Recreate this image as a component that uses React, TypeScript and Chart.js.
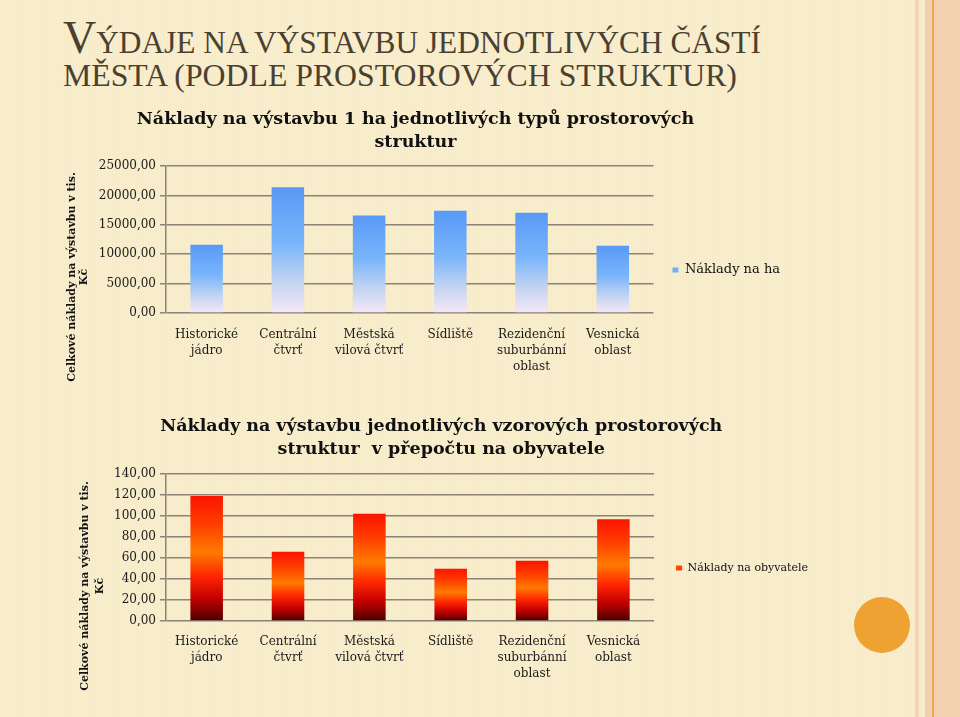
import React, { useEffect, useRef } from "react";
import { Chart, registerables } from "chart.js";

Chart.register(...registerables);

// ---------- data ----------
const categories: string[][] = [
  ["Historické", "jádro"],
  ["Centrální", "čtvrť"],
  ["Městská", "vilová čtvrť"],
  ["Sídliště"],
  ["Rezidenční", "suburbánní", "oblast"],
  ["Vesnická", "oblast"],
];
const costPerHa = [11590, 21400, 16580, 17380, 17040, 11420];
const costPerInhabitant = [119.0, 66.0, 102.2, 49.8, 57.4, 96.9];

const haAxisMax = 25000;
const haAxisStep = 5000;
const inhAxisMax = 140;
const inhAxisStep = 20;

const slideTitle1 = "ÝDAJE NA VÝSTAVBU JEDNOTLIVÝCH ČÁSTÍ";
const slideTitleInitial = "V";
const slideTitle2 = "MĚSTA (PODLE PROSTOROVÝCH STRUKTUR)";

const chart1Title = ["Náklady na výstavbu 1 ha jednotlivých typů prostorových", "struktur"];
const chart2Title = ["Náklady na výstavbu jednotlivých vzorových prostorových", "struktur  v přepočtu na obyvatele"];
const yAxisTitle = ["Celkové náklady na výstavbu v tis.", "Kč"];
const series1Label = "Náklady na ha";
const series2Label = "Náklady na obyvatele";

// ---------- style ----------
const FONT = "'DejaVu Serif', serif";
const GRID = "#8a8376";
const TEXT = "#1a1a1a";

const fmt = (v: number) => Number(v).toFixed(2).replace(".", ",");

const blueStops: [number, string][] = [
  [0, "#5899f6"],
  [0.45, "#7ab5fb"],
  [0.75, "#c3d4f1"],
  [1, "#f5e8f7"],
];
const redStops: [number, string][] = [
  [0, "#fb1400"],
  [0.22, "#ff3c00"],
  [0.45, "#ff7a00"],
  [0.64, "#ff2600"],
  [0.82, "#c20000"],
  [1, "#4a0000"],
];

const yTitlePlugin = {
  id: "yTitleCustom",
  afterDraw(chart: any, _args: any, opts: any) {
    if (!opts || !opts.lines) return;
    const ctx = chart.ctx;
    ctx.save();
    ctx.font = `bold ${opts.size}px ${FONT}`;
    ctx.fillStyle = opts.color;
    ctx.textAlign = "center";
    ctx.textBaseline = "middle";
    opts.lines.forEach((line: string, i: number) => {
      ctx.save();
      ctx.translate(opts.xs[i], opts.y);
      ctx.rotate(-Math.PI / 2);
      ctx.fillText(line, 0, 0);
      ctx.restore();
    });
    ctx.restore();
  },
};

function gradientColor(stops: [number, string][], fallback: string) {
  return (c: any) => {
    const chart = c.chart;
    if (c.type !== "data" || !chart.chartArea || !chart.scales.y) return fallback;
    const v = c.parsed ? c.parsed.y : c.raw;
    const y = chart.scales.y;
    const top = y.getPixelForValue(v);
    const bot = y.getPixelForValue(0);
    const g = chart.ctx.createLinearGradient(0, top, 0, bot);
    stops.forEach(([o, col]) => g.addColorStop(o, col));
    return g;
  };
}

type ChartSpec = {
  left: number;
  top: number;
  width: number;
  height: number;
  padLeft: number;
  yWidth: number;
  xHeight: number;
  titleLines: string[];
  titlePadTop: number;
  titlePadBottom: number;
  data: number[];
  label: string;
  stops: [number, string][];
  legendColor: string;
  max: number;
  step: number;
  legendFont: number;
  legendPad: number;
  legendShift: number;
  xPad: number;
  yTitleXs: number[];
  yTitleY: number;
};

function BarChart({ spec }: { spec: ChartSpec }) {
  const ref = useRef<HTMLCanvasElement | null>(null);
  useEffect(() => {
    if (!ref.current) return;
    const chart = new Chart(ref.current, {
      type: "bar",
      data: {
        labels: categories,
        datasets: [
          {
            label: spec.label,
            data: spec.data,
            backgroundColor: gradientColor(spec.stops, spec.legendColor) as any,
            borderWidth: 0,
            categoryPercentage: 1,
            barPercentage: 0.4,
          },
        ],
      },
      options: {
        responsive: false,
        animation: false,
        events: [],
        layout: { padding: { left: spec.padLeft, right: 0, top: 0, bottom: 0 } },
        scales: {
          x: {
            grid: { display: false, drawTicks: false },
            border: { display: false },
            ticks: {
              font: { family: FONT, size: 12, lineHeight: 1.33 },
              color: TEXT,
              padding: spec.xPad,
              maxRotation: 0,
              autoSkip: false,
            },
            afterFit: (s: any) => {
              s.height = spec.xHeight;
            },
          },
          y: {
            min: 0,
            max: spec.max,
            ticks: {
              stepSize: spec.step,
              callback: (v: any) => fmt(v),
              font: { family: FONT, size: 12 },
              color: TEXT,
              padding: 4,
            },
            grid: { color: GRID, lineWidth: 1.5, tickLength: 6 },
            border: { display: true, color: GRID, width: 1.5 },
            afterFit: (s: any) => {
              s.width = spec.yWidth;
            },
          },
        },
        plugins: {
          tooltip: { enabled: false },
          title: {
            display: true,
            text: spec.titleLines,
            color: "#111",
            font: { family: FONT, size: 17.5, weight: "bold", lineHeight: 1.314 },
            padding: { top: spec.titlePadTop, bottom: spec.titlePadBottom },
          },
          legend: {
            position: "right",
            title: {
              display: true,
              text: " ",
              font: { family: FONT, size: 12, lineHeight: 1.2 },
              padding: { top: 0, bottom: Math.max(0, spec.legendShift * 2 - 14.4) },
            },
            labels: {
              boxWidth: 6,
              boxHeight: 5,
              padding: spec.legendPad,
              color: "#111",
              font: { family: FONT, size: spec.legendFont },
            },
          },
          yTitleCustom: {
            lines: yAxisTitle,
            xs: spec.yTitleXs.map((x) => x - spec.left),
            y: spec.yTitleY - spec.top,
            size: 11,
            color: "#111",
          },
        } as any,
      },
      plugins: [yTitlePlugin],
    } as any);
    return () => chart.destroy();
  }, [spec]);
  return (
    <canvas
      ref={ref}
      width={spec.width}
      height={spec.height}
      style={{ position: "absolute", left: spec.left, top: spec.top, width: spec.width, height: spec.height }}
    />
  );
}

const spec1: ChartSpec = {
  left: 41,
  top: 100,
  width: 749,
  height: 290,
  padLeft: 0,
  yWidth: 125,
  xHeight: 77,
  titleLines: chart1Title,
  titlePadTop: 7.5,
  titlePadBottom: 12.5,
  data: costPerHa,
  label: series1Label,
  stops: blueStops,
  legendColor: "#6aa8f8",
  max: haAxisMax,
  step: haAxisStep,
  legendFont: 13,
  legendPad: 19,
  legendShift: 25,
  xPad: 14,
  yTitleXs: [72, 84],
  yTitleY: 277,
};

const spec2: ChartSpec = {
  left: 40,
  top: 405,
  width: 778,
  height: 300,
  padLeft: 24.5,
  yWidth: 101.5,
  xHeight: 84,
  titleLines: chart2Title,
  titlePadTop: 9.5,
  titlePadBottom: 13.5,
  data: costPerInhabitant,
  label: series2Label,
  stops: redStops,
  legendColor: "#f03010",
  max: inhAxisMax,
  step: inhAxisStep,
  legendFont: 11,
  legendPad: 22,
  legendShift: 13,
  xPad: 13,
  yTitleXs: [85, 100],
  yTitleY: 586,
};

export default function App() {
  const titleColor = "#4a4030";
  const titleStyle: React.CSSProperties = {
    position: "absolute",
    left: 63,
    fontFamily: "'Liberation Serif', serif",
    fontSize: 47,
    lineHeight: "47px",
    color: titleColor,
    whiteSpace: "nowrap",
    transformOrigin: "left top",
  };
  return (
    <div
      style={{
        position: "absolute",
        left: 0,
        top: 0,
        width: 960,
        height: 717,
        overflow: "hidden",
        background:
          "repeating-linear-gradient(90deg, rgba(255,255,255,0.18) 0px, rgba(255,255,255,0.18) 1px, rgba(0,0,0,0) 1px, rgba(0,0,0,0) 3px), #f7ebc8",
      }}
    >
      {/* right decorative stripes */}
      <div style={{ position: "absolute", left: 915, top: 0, width: 4, height: 717, background: "#f4d6b6" }} />
      <div style={{ position: "absolute", left: 925, top: 0, width: 7, height: 717, background: "#f2cfae" }} />
      <div style={{ position: "absolute", left: 932, top: 0, width: 2, height: 717, background: "#f0a848" }} />
      <div style={{ position: "absolute", left: 934, top: 0, width: 26, height: 717, background: "#f2d1b1" }} />
      {/* orange circle */}
      <div
        style={{
          position: "absolute",
          left: 882 - 28,
          top: 625 - 28,
          width: 56,
          height: 56,
          borderRadius: "50%",
          background: "#eea232",
        }}
      />
      <div style={{ ...titleStyle, top: 13.6, transform: "scaleX(0.979)" }}>
        <span>{slideTitleInitial}</span>
        <span style={{ fontSize: 32 }}>{slideTitle1}</span>
      </div>
      <div style={{ ...titleStyle, top: 46.6, transform: "scaleX(0.993)" }}>
        <span style={{ fontSize: 32 }}>{slideTitle2}</span>
      </div>
      <BarChart spec={spec1} />
      <BarChart spec={spec2} />
    </div>
  );
}
